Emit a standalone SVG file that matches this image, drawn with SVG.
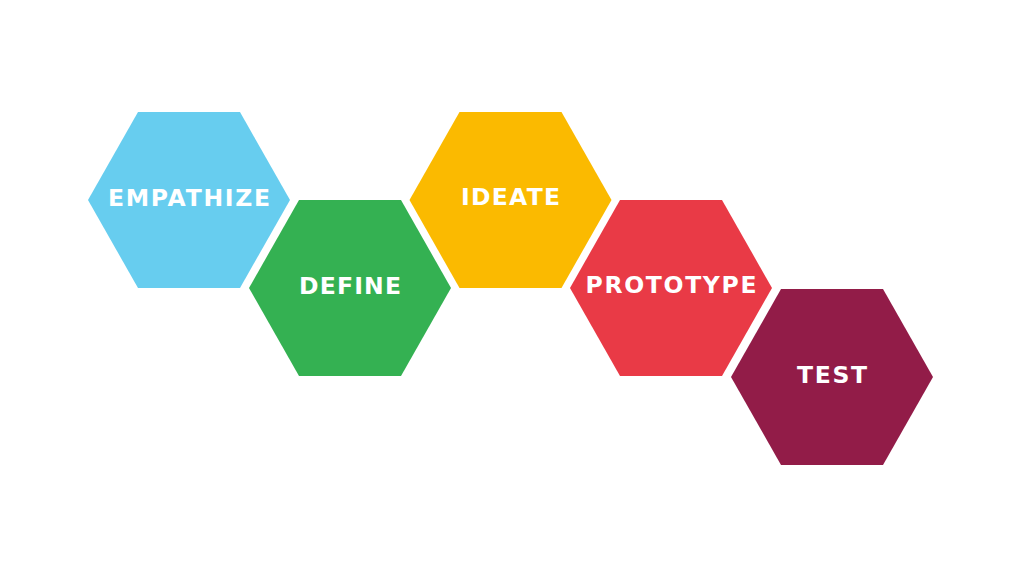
<svg xmlns="http://www.w3.org/2000/svg" xmlns:xlink="http://www.w3.org/1999/xlink" width="1024" height="576" viewBox="0 0 1024 576">
  <style>
    .lbl { font-family: "DejaVu Sans", "Liberation Sans", sans-serif; font-weight: bold; font-size: 23.5px; fill: #ffffff; text-anchor: middle; }
  </style>
  <defs>
    <polygon id="hex" points="-51,-88 51,-88 101,0 51,88 -51,88 -101,0"/>
  </defs>
  <rect width="1024" height="576" fill="#ffffff"/>
  <g id="connectors"/>
  <g id="empathize" transform="translate(189,200)">
    <use xlink:href="#hex" href="#hex" fill="#67CDEF"/>
    <text class="lbl" x="0" y="6" textLength="162" lengthAdjust="spacing">EMPATHIZE</text>
  </g>
  <g id="define" transform="translate(350,288)">
    <use xlink:href="#hex" href="#hex" fill="#34B152"/>
    <text class="lbl" x="0" y="6" textLength="102" lengthAdjust="spacing">DEFINE</text>
  </g>
  <g id="ideate" transform="translate(510.5,200)">
    <use xlink:href="#hex" href="#hex" fill="#FBBA00"/>
    <text class="lbl" x="0" y="5" textLength="99" lengthAdjust="spacing">IDEATE</text>
  </g>
  <g id="prototype" transform="translate(671,288)">
    <use xlink:href="#hex" href="#hex" fill="#E93A46"/>
    <text class="lbl" x="0" y="5" textLength="171" lengthAdjust="spacing">PROTOTYPE</text>
  </g>
  <g id="test" transform="translate(832,377)">
    <use xlink:href="#hex" href="#hex" fill="#921C48"/>
    <text class="lbl" x="0" y="6" textLength="70" lengthAdjust="spacing">TEST</text>
  </g>
</svg>
